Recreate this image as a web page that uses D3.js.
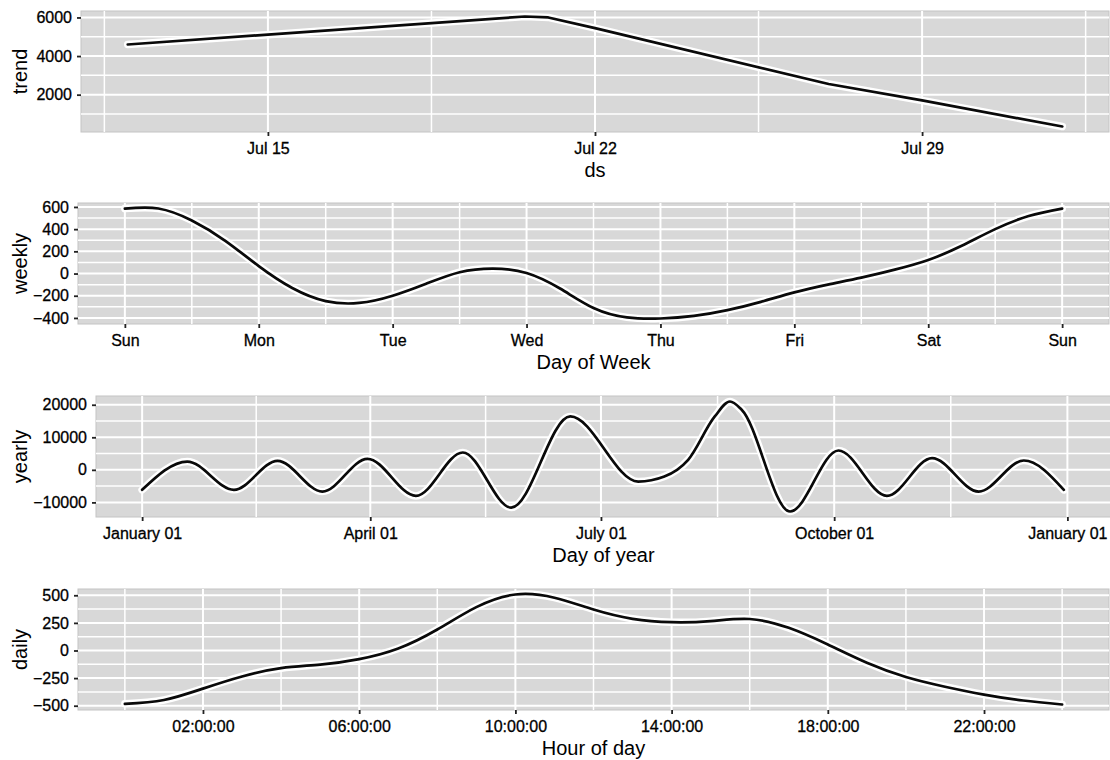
<!DOCTYPE html>
<html><head><meta charset="utf-8">
<script src="https://cdn.jsdelivr.net/npm/d3@7/dist/d3.min.js"></script>
<style>
body{margin:0;background:#fff;}
text{font-family:"Liberation Sans",Arial,Helvetica,sans-serif;}
</style></head><body>
<svg id="chart" width="1110" height="760"></svg>
<script>
// ---------- data ----------
const trendDates  = ["2017-07-12T00:00","2017-07-15T00:00","2017-07-20T12:00","2017-07-21T00:00","2017-07-22T00:00","2017-07-27T00:00","2017-07-29T00:00","2017-08-01T00:00"];
const trendValues = [4600, 5110, 6050, 6000, 5450, 2550, 1700, 350];
const trendTickDates = ["2017-07-15T00:00","2017-07-22T00:00","2017-07-29T00:00"];
const trendYTicks = [2000, 4000, 6000];

const weeklyDays = [0,0.25,0.5,0.75,1,1.25,1.5,1.75,2,2.25,2.5,2.75,3,3.25,3.5,3.75,4,4.25,4.5,4.75,5,5.25,5.5,5.75,6,6.25,6.5,6.75,7];
const weeklyValues = [585,586,478,295,67,-130,-248,-265,-200,-92,12,45,5,-135,-310,-395,-405,-382,-330,-255,-170,-100,-37,35,122,250,400,518,585];
const weeklyTickLabels = ["Sun","Mon","Tue","Wed","Thu","Fri","Sat","Sun"];
const weeklyYTicks = [-400,-200,0,200,400,600];

const yearlyDays = [0,17.8,36.2,53.4,71.1,88.9,108,126.5,145.6,168.9,195.7,206,215.4,225.9,231.9,236.5,255.6,274.7,293.8,311.6,330,347.8,363.6];
const yearlyValues = [-6150,2550,-6150,2770,-6670,3380,-8000,5330,-11600,16400,-3600,-2050,3080,16400,21000,18460,-12800,5950,-8000,3600,-6670,2870,-6150];
const yearlyTickDays = [0,90,181,273,365];
const yearlyTickLabels = ["January 01","April 01","July 01","October 01","January 01"];
const yearlyYTicks = [-10000,0,10000,20000];

const dailyHours = [0,1,2,3,4,5,6,7,8,9,10,11,12,13,14,15,16,17,18,19,20,21,22,23,24];
const dailyValues = [-483,-448,-345,-235,-160,-128,-78,18,190,393,507,478,371,287,256,266,285,205,54,-111,-240,-328,-399,-453,-489];
const dailyTickHours = [2,6,10,14,18,22];
const dailyTickLabels = ["02:00:00","06:00:00","10:00:00","14:00:00","18:00:00","22:00:00"];
const dailyYTicks = [-500,-250,0,250,500];

// ---------- helpers ----------
const svg = d3.select("#chart");
const parse = d3.timeParse("%Y-%m-%dT%H:%M");

function expand(ext, f=0.05){ const r = ext[1]-ext[0]; return [ext[0]-r*f, ext[1]+r*f]; }
function minors(major, dom){
  const m = major.map(Number);
  const out = [];
  if (m.length>1){ out.push(m[0]-(m[1]-m[0])/2); }
  for (let i=0;i<m.length-1;i++) out.push((m[i]+m[i+1])/2);
  if (m.length>1){ out.push(m[m.length-1]+(m[m.length-1]-m[m.length-2])/2); }
  const lo=Math.min(+dom[0],+dom[1]), hi=Math.max(+dom[0],+dom[1]);
  return out.filter(v=>v>lo && v<hi);
}

function panel(c){
  const g = svg.append("g");
  const x = c.x, y = c.y;
  const [L,R] = x.range(); const [B,T] = y.range();
  g.append("rect").attr("x",L).attr("y",T).attr("width",R-L).attr("height",B-T)
    .attr("fill","#d8d8d8").attr("stroke","#c4c4c4").attr("stroke-width",1);
  const xd = x.domain().map(Number), yd = y.domain();
  const xMin = minors(c.xTicks, xd), yMin = minors(c.yTicks, yd);
  g.selectAll(".hmin").data(yMin).join("line").attr("x1",L).attr("x2",R)
    .attr("y1",d=>y(d)).attr("y2",d=>y(d)).attr("stroke","#fff").attr("stroke-width",1.5);
  g.selectAll(".vmin").data(xMin).join("line").attr("y1",T).attr("y2",B)
    .attr("x1",d=>x(d)).attr("x2",d=>x(d)).attr("stroke","#fff").attr("stroke-width",1.5);
  g.selectAll(".hmaj").data(c.yTicks).join("line").attr("x1",L).attr("x2",R)
    .attr("y1",d=>y(d)).attr("y2",d=>y(d)).attr("stroke","#fff").attr("stroke-width",2);
  g.selectAll(".vmaj").data(c.xTicks).join("line").attr("y1",T).attr("y2",B)
    .attr("x1",d=>x(d)).attr("x2",d=>x(d)).attr("stroke","#fff").attr("stroke-width",2);

  const line = d3.line().x(d=>x(d[0])).y(d=>y(d[1])).curve(c.curve);
  g.append("path").datum(c.data).attr("d",line).attr("fill","none")
    .attr("stroke","#fff").attr("stroke-width",7.5).attr("stroke-linejoin","round").attr("stroke-linecap","round");
  g.append("path").datum(c.data).attr("d",line).attr("fill","none")
    .attr("stroke","#0a0a0a").attr("stroke-width",2.7).attr("stroke-linejoin","round").attr("stroke-linecap","round");

  const ax = g.append("g").attr("transform",`translate(0,${B})`)
    .call(d3.axisBottom(x).tickValues(c.xTicks).tickFormat(c.xFormat).tickSize(4).tickPadding(6.5));
  const ay = g.append("g").attr("transform",`translate(${L},0)`)
    .call(d3.axisLeft(y).tickValues(c.yTicks).tickFormat(d3.format("d")).tickSize(4).tickPadding(5));
  [ax,ay].forEach(a=>{
    a.select(".domain").remove();
    a.selectAll(".tick line").attr("stroke","#222").attr("stroke-width",1.8);
    a.selectAll(".tick text").attr("fill","#000").attr("stroke","#000").attr("stroke-width",0.3)
      .style("font-size","16px").style("font-family","'Liberation Sans',Arial,sans-serif");
  });
  g.append("text").attr("x",(L+R)/2).attr("y",B+45).attr("text-anchor","middle")
    .attr("fill","#000").style("font-size","20px").text(c.xTitle);
  g.append("text").attr("transform",`translate(27,${(T+B)/2}) rotate(-90)`).attr("text-anchor","middle")
    .attr("fill","#000").style("font-size","20px").text(c.yTitle);
}

const RIGHT = 1109;

// trend
{
  const xs = trendDates.map(parse);
  const ext = d3.extent(xs).map(Number);
  const xdom = expand(ext).map(v=>new Date(v));
  const x = d3.scaleTime().domain(xdom).range([81,RIGHT]);
  const y = d3.scaleLinear().domain(expand(d3.extent(trendValues))).range([132,11]);
  panel({x,y,xTicks:trendTickDates.map(parse),xFormat:d3.timeFormat("%b %d"),yTicks:trendYTicks,
    data:xs.map((d,i)=>[d,trendValues[i]]),curve:d3.curveLinear,xTitle:"ds",yTitle:"trend"});
}
// weekly
{
  const x = d3.scaleLinear().domain(expand(d3.extent(weeklyDays))).range([78,RIGHT]);
  const y = d3.scaleLinear().domain(expand(d3.extent(weeklyValues))).range([324,203]);
  panel({x,y,xTicks:d3.range(weeklyTickLabels.length),xFormat:(d,i)=>weeklyTickLabels[i],yTicks:weeklyYTicks,
    data:weeklyDays.map((d,i)=>[d,weeklyValues[i]]),curve:d3.curveNatural,xTitle:"Day of Week",yTitle:"weekly"});
}
// yearly
{
  const x = d3.scaleLinear().domain(expand([0,364])).range([96,RIGHT+2]);
  const y = d3.scaleLinear().domain(expand(d3.extent(yearlyValues))).range([517,396]);
  panel({x,y,xTicks:yearlyTickDays,xFormat:(d,i)=>yearlyTickLabels[i],yTicks:yearlyYTicks,
    data:yearlyDays.map((d,i)=>[d,yearlyValues[i]]),curve:d3.curveMonotoneX,xTitle:"Day of year",yTitle:"yearly"});
}
// daily
{
  const x = d3.scaleLinear().domain(expand(d3.extent(dailyHours))).range([78,RIGHT]);
  const y = d3.scaleLinear().domain(expand(d3.extent(dailyValues))).range([710,589]);
  panel({x,y,xTicks:dailyTickHours,xFormat:(d,i)=>dailyTickLabels[i],yTicks:dailyYTicks,
    data:dailyHours.map((d,i)=>[d,dailyValues[i]]),curve:d3.curveNatural,xTitle:"Hour of day",yTitle:"daily"});
}
</script>
</body></html>
